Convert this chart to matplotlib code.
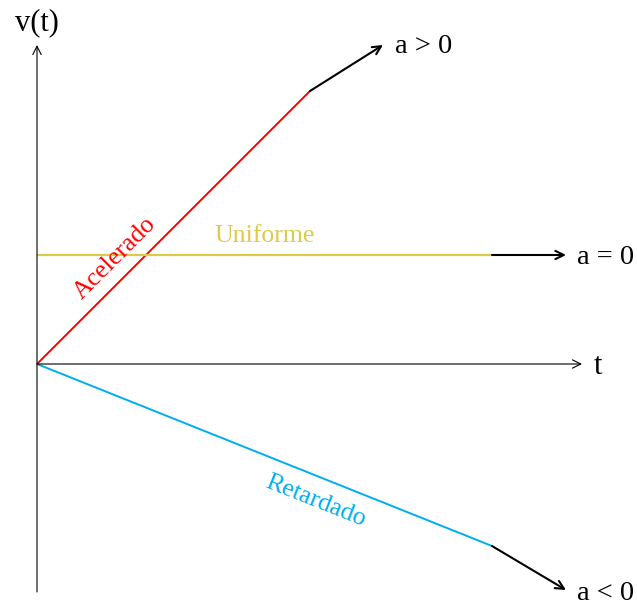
import matplotlib
matplotlib.use("Agg")
import matplotlib.pyplot as plt

# data (t, v) in diagram units, origin at axes crossing
accel_t = [0.0, 2.73]
accel_v = [0.0, 2.73]
accel_arrow_t = [2.73, 3.46]
accel_arrow_v = [2.73, 3.19]

unif_t = [0.0, 4.55]
unif_v = [1.09, 1.09]
unif_arrow_t = [4.55, 5.29]
unif_arrow_v = [1.09, 1.09]

ret_t = [0.0, 4.55]
ret_v = [0.0, -1.82]
ret_arrow_t = [4.55, 5.29]
ret_arrow_v = [-1.82, -2.26]

t_axis = [0.0, 5.45]
v_axis = [-2.28, 3.19]

labels_arrow = ["a > 0", "a = 0", "a < 0"]
curve_names = ["Acelerado", "Uniforme", "Retardado"]

RED = "#ff0000"
YEL = "#dccb4a"
BLUE = "#00aeef"

plt.rcParams['font.family'] = ['Liberation Serif', 'DejaVu Serif']

fig = plt.figure(figsize=(6.37, 6.05), dpi=100)
ax = fig.add_axes([0, 0, 1, 1])
ax.set_xlim(-0.37, 6.0)
ax.set_ylim(-2.41, 3.64)
ax.axis("off")

def arrow(x0, y0, x1, y1, color, lw, ms=15):
    ax.annotate("", xy=(x1, y1), xytext=(x0, y0),
                arrowprops=dict(arrowstyle="->", color=color, lw=lw,
                                mutation_scale=ms, shrinkA=0, shrinkB=0))

# axes
arrow(t_axis[0], 0, t_axis[1], 0, "black", 0.8)
arrow(0, v_axis[0], 0, v_axis[1], "black", 0.8)

# curves
ax.plot(accel_t, accel_v, color=RED, lw=1.4, solid_capstyle="butt")
ax.plot(unif_t, unif_v, color=YEL, lw=1.6, solid_capstyle="butt")
ax.plot(ret_t, ret_v, color=BLUE, lw=1.4, solid_capstyle="butt")

arrow(accel_arrow_t[0], accel_arrow_v[0], accel_arrow_t[1], accel_arrow_v[1], "black", 1.5)
arrow(unif_arrow_t[0], unif_arrow_v[0], unif_arrow_t[1], unif_arrow_v[1], "black", 1.5)
arrow(ret_arrow_t[0], ret_arrow_v[0], ret_arrow_t[1], ret_arrow_v[1], "black", 1.5)

fs = 20.5
ax.text(accel_arrow_t[1] + 0.12, accel_arrow_v[1] - 0.01, labels_arrow[0], fontsize=fs,
        ha="left", va="center")
ax.text(unif_arrow_t[1] + 0.11, unif_arrow_v[1] - 0.02, labels_arrow[1], fontsize=fs,
        ha="left", va="center")
ax.text(ret_arrow_t[1] + 0.11, ret_arrow_v[1] - 0.03, labels_arrow[2], fontsize=fs,
        ha="left", va="center")
ax.text(t_axis[1] + 0.16, -0.02, "t", fontsize=22, ha="center", va="center")
ax.text(0, v_axis[1] + 0.22, "v(t)", fontsize=22, ha="center", va="center")

ax.text(0.78, 1.06, curve_names[0], color=RED, fontsize=18.5, rotation=45,
        ha="center", va="center", rotation_mode="anchor")
ax.text(2.28, 1.28, curve_names[1], color=YEL, fontsize=18.5,
        ha="center", va="center")
ax.text(2.79, -1.37, curve_names[2], color=BLUE, fontsize=18.5, rotation=-21.8,
        ha="center", va="center", rotation_mode="anchor")

fig.savefig("out.png", dpi=100)
